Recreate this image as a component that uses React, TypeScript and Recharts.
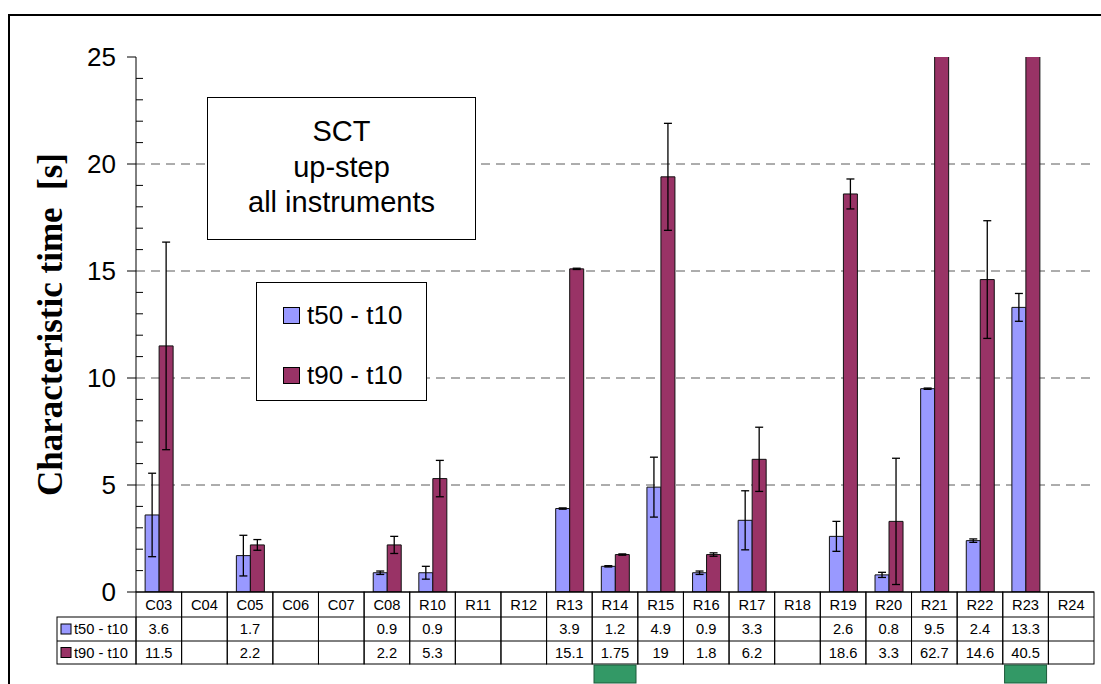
import React from "react";
import { BarChart, Bar, XAxis, YAxis, CartesianGrid, ErrorBar, Legend } from "recharts";

const categories = ["C03", "C04", "C05", "C06", "C07", "C08", "R10", "R11", "R12", "R13", "R14", "R15", "R16", "R17", "R18", "R19", "R20", "R21", "R22", "R23", "R24"];

// bar heights
const t50 = [3.6, null, 1.7, null, null, 0.9, 0.9, null, null, 3.9, 1.2, 4.9, 0.9, 3.35, null, 2.6, 0.8, 9.5, 2.4, 13.3, null];
const t50Err = [1.95, null, 0.95, null, null, 0.08, 0.3, null, null, 0.03, 0.03, 1.4, 0.08, 1.38, null, 0.7, 0.12, 0.03, 0.08, 0.65, null];
const t90 = [11.5, null, 2.2, null, null, 2.2, 5.3, null, null, 15.1, 1.75, 19.4, 1.75, 6.2, null, 18.6, 3.3, 62.7, 14.6, 40.5, null];
const t90Err = [4.85, null, 0.25, null, null, 0.4, 0.85, null, null, 0.03, 0.03, 2.5, 0.08, 1.5, null, 0.7, 2.95, null, 2.75, null, null];

// values printed in the data table
const t50Labels = ["3.6", "", "1.7", "", "", "0.9", "0.9", "", "", "3.9", "1.2", "4.9", "0.9", "3.3", "", "2.6", "0.8", "9.5", "2.4", "13.3", ""];
const t90Labels = ["11.5", "", "2.2", "", "", "2.2", "5.3", "", "", "15.1", "1.75", "19", "1.8", "6.2", "", "18.6", "3.3", "62.7", "14.6", "40.5", ""];

const flagged = ["R14", "R23"];
const yTicks = [0, 1, 2, 3, 4, 5, 6, 7, 8, 9, 10, 11, 12, 13, 14, 15, 16, 17, 18, 19, 20, 21, 22, 23, 24, 25];
const gridValues = [5, 10, 15, 20];
const titleLines = ["SCT", "up-step", "all instruments"];

const T50_COLOR = "#9999FF";
const T90_COLOR = "#993366";
const FONT = "Arial, 'Liberation Sans', sans-serif";

const W = 1101;
const H = 684;
const LEFT = 136;
const RIGHT = 7;
const TOP = 57;
const XAXIS_H = 72;
const BAND = (W - LEFT - RIGHT) / categories.length;
const ROWS = [25, 24, 23];
const HEAD_W = 79;

const data = categories.map((cat, i) => ({
  cat,
  t50: t50[i],
  t50Err: t50Err[i],
  t90: t90[i],
  t90Err: t90Err[i],
}));

const YTick = (props: any) => {
  const { x, y, payload } = props;
  const v = payload.value;
  const major = v % 5 === 0;
  return (
    <g>
      {major ? (
        <line x1={x - 9} x2={x} y1={y} y2={y} stroke="#000" />
      ) : (
        <line x1={x} x2={x + 7} y1={y} y2={y} stroke="#000" />
      )}
      {major && (
        <text x={x - 20} y={y} dy="0.36em" textAnchor="end" fontSize={26} fontFamily={FONT} fill="#000">
          {v}
        </text>
      )}
    </g>
  );
};

const Swatch = ({ x, y, color }: any) => (
  <rect x={x} y={y} width={10} height={10} fill={color} stroke="#000" strokeWidth={1} />
);

const XTick = (props: any) => {
  const { x, y, payload } = props;
  const i = categories.indexOf(payload.value);
  const left = x - BAND / 2;
  const r1 = y + ROWS[0];
  const r2 = r1 + ROWS[1];
  const r3 = r2 + ROWS[2];
  const txt = { fontSize: 14.7, fontFamily: FONT, fill: "#000", textAnchor: "middle" as const };
  return (
    <g>
      <rect x={left} y={y} width={BAND} height={r3 - y} fill="none" stroke="#000" />
      <line x1={left} x2={left + BAND} y1={r1} y2={r1} stroke="#000" />
      <line x1={left} x2={left + BAND} y1={r2} y2={r2} stroke="#000" />
      <text x={x} y={y + ROWS[0] / 2} dy="0.36em" {...txt}>{payload.value}</text>
      <text x={x} y={r1 + ROWS[1] / 2} dy="0.36em" {...txt}>{t50Labels[i]}</text>
      <text x={x} y={r2 + ROWS[2] / 2} dy="0.36em" {...txt}>{t90Labels[i]}</text>
      {flagged.includes(payload.value) && (
        <rect x={x - 21} y={r3 + 1} width={42} height={18} fill="#339966" stroke="#1d5a3a" />
      )}
      {i === 0 && (
        <g>
          <rect x={left - HEAD_W} y={r1} width={HEAD_W} height={r3 - r1} fill="none" stroke="#000" />
          <line x1={left - HEAD_W} x2={left} y1={r2} y2={r2} stroke="#000" />
          <Swatch x={left - HEAD_W + 4} y={r1 + ROWS[1] / 2 - 5} color={T50_COLOR} />
          <Swatch x={left - HEAD_W + 4} y={r2 + ROWS[2] / 2 - 5} color={T90_COLOR} />
          <text x={left - HEAD_W + 17} y={r1 + ROWS[1] / 2} dy="0.36em" fontSize={14.7} fontFamily={FONT}>t50 - t10</text>
          <text x={left - HEAD_W + 17} y={r2 + ROWS[2] / 2} dy="0.36em" fontSize={14.7} fontFamily={FONT}>t90 - t10</text>
        </g>
      )}
    </g>
  );
};

const YLabel = (props: any) => {
  const vb = props.viewBox;
  const cy = vb.y + vb.height / 2;
  const cx = 50;
  return (
    <text
      x={cx}
      y={cy}
      transform={`rotate(-90 ${cx} ${cy})`}
      textAnchor="middle"
      dy="0.35em"
      fontSize={35}
      fontWeight="bold"
      fontFamily="'Times New Roman', 'Liberation Serif', serif"
      style={{ whiteSpace: "pre" }}
      fill="#000"
    >
      Characteristic time  [s]
    </text>
  );
};

const LegendBox = (props: any) => (
  <div
    style={{
      width: 171,
      height: 119,
      boxSizing: "border-box",
      border: "1px solid #000",
      background: "#fff",
      position: "relative",
      fontFamily: FONT,
    }}
  >
    {(props.payload || []).map((e: any, i: number) => (
      <div
        key={i}
        style={{
          position: "absolute",
          left: 26,
          top: 17 + i * 60,
          height: 30,
          display: "flex",
          alignItems: "center",
          fontSize: 26,
          lineHeight: "30px",
          whiteSpace: "nowrap",
          color: "#000",
        }}
      >
        <span
          style={{
            display: "inline-block",
            width: 15,
            height: 15,
            background: e.color,
            border: "1px solid #000",
            marginRight: 7,
          }}
        />
        {e.value}
      </div>
    ))}
  </div>
);

export default function App() {
  return (
    <div style={{ position: "absolute", left: 0, top: 0, width: W, height: H, background: "#fff", fontFamily: FONT }}>
      <div
        style={{
          position: "absolute",
          left: 8,
          top: 14,
          width: W - 8,
          height: H - 14,
          boxSizing: "border-box",
          borderTop: "2px solid #000",
          borderLeft: "2px solid #000",
        }}
      />
      <BarChart
        width={W}
        height={H}
        data={data}
        margin={{ top: TOP, right: RIGHT, bottom: H - TOP - 535 - XAXIS_H, left: 0 }}
        barCategoryGap="20%"
        barGap={0}
      >
        <CartesianGrid
          vertical={false}
          horizontalValues={gridValues}
          stroke="#5a5a5a"
          strokeDasharray="9 6"
        />
        <XAxis
          dataKey="cat"
          interval={0}
          height={XAXIS_H}
          tickSize={0}
          tickMargin={0}
          tickLine={false}
          axisLine={{ stroke: "#000" }}
          tick={<XTick />}
        />
        <XAxis xAxisId="top" dataKey="cat" orientation="top" height={0} tick={false} tickLine={false} axisLine={{ stroke: "#333" }} />
        <YAxis
          domain={[0, 25]}
          ticks={yTicks}
          interval={0}
          allowDataOverflow
          width={LEFT}
          tickSize={0}
          tickMargin={0}
          tickLine={false}
          axisLine={{ stroke: "#000" }}
          tick={<YTick />}
          label={<YLabel />}
        />
        <YAxis yAxisId="right" orientation="right" domain={[0, 25]} width={0} tick={false} tickLine={false} axisLine={{ stroke: "#555" }} />
        <Legend
          layout="vertical"
          align="center"
          verticalAlign="middle"
          content={<LegendBox />}
          wrapperStyle={{ position: "absolute", left: 256, top: 282, width: 171, height: 119 }}
        />
        <Bar dataKey="t50" name="t50 - t10" fill={T50_COLOR} stroke="#111" strokeWidth={1} isAnimationActive={false}>
          <ErrorBar dataKey="t50Err" width={4} stroke="#000" strokeWidth={1.3} />
        </Bar>
        <Bar dataKey="t90" name="t90 - t10" fill={T90_COLOR} stroke="#111" strokeWidth={1} isAnimationActive={false}>
          <ErrorBar dataKey="t90Err" width={4} stroke="#000" strokeWidth={1.3} />
        </Bar>
      </BarChart>
      <div
        style={{
          position: "absolute",
          left: 207,
          top: 97,
          width: 269,
          height: 143,
          boxSizing: "border-box",
          border: "1px solid #000",
          background: "#fff",
          paddingTop: 16,
          textAlign: "center",
          fontSize: 29,
          lineHeight: "35.5px",
          color: "#000",
        }}
      >
        {titleLines.map((l) => (
          <div key={l}>{l}</div>
        ))}
      </div>
    </div>
  );
}
